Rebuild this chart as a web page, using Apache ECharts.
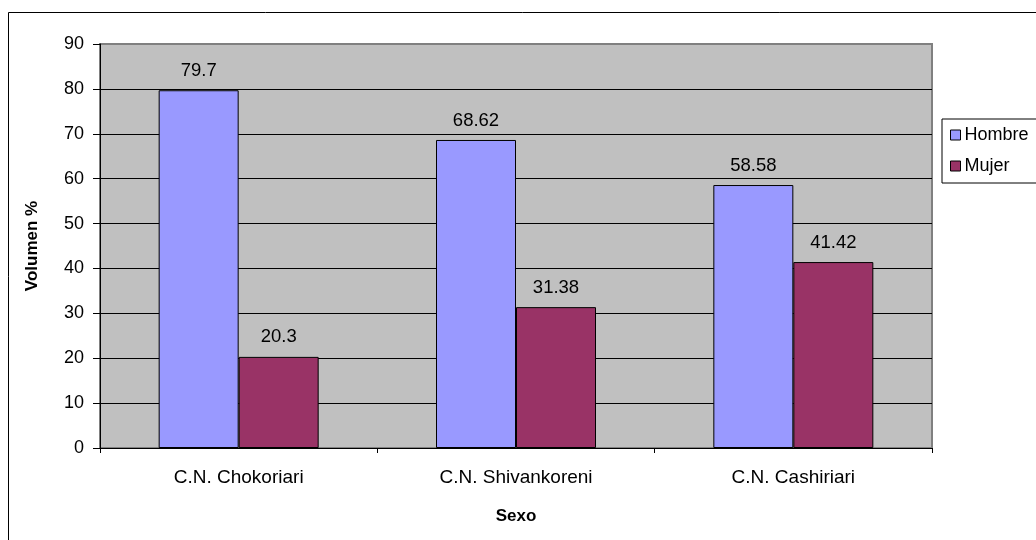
<!DOCTYPE html>
<html>
<head>
<meta charset="utf-8">
<script src="https://cdn.jsdelivr.net/npm/echarts@6/dist/echarts.min.js"></script>
<style>
  html, body { margin: 0; padding: 0; background: #fff; }
  #chart { width: 1036px; height: 540px; }
</style>
</head>
<body>
<div id="chart"></div>
<script>
// Community names on the category axis
const categories = ['C.N. Chokoriari', 'C.N. Shivankoreni', 'C.N. Cashiriari'];
// Share of population by sex, in percent
const hombre = [79.7, 68.62, 58.58];
const mujer = [20.3, 31.38, 41.42];
// Value axis range
const yMin = 0;
const yMax = 90;
const yStep = 10;

const FONT = '"Liberation Sans", Arial, sans-serif';
const chart = echarts.init(document.getElementById('chart'), null, { renderer: 'canvas' });

// Horizontal gridlines: black inside, gray at the top edge
const lineCount = (yMax - yMin) / yStep + 1;
const splitColors = [];
for (let i = 0; i < lineCount; i++) splitColors.push(i === lineCount - 1 ? '#808080' : '#000000');

const labelStyle = {
  show: true,
  position: 'top',
  distance: 10,
  color: '#000',
  fontFamily: FONT,
  fontSize: 18.5
};

chart.setOption({
  animation: false,
  backgroundColor: '#ffffff',
  textStyle: { fontFamily: FONT, color: '#000' },
  graphic: [{
    type: 'rect',
    shape: { x: 8.5, y: 12.5, width: 1200, height: 700 },
    style: { fill: 'none', stroke: '#000', lineWidth: 1 },
    silent: true,
    z: -10
  }],
  grid: {
    left: 100,
    top: 44,
    width: 832,
    height: 404,
    show: true,
    backgroundColor: '#C0C0C0',
    borderColor: '#808080',
    borderWidth: 2
  },
  legend: {
    orient: 'vertical',
    left: 942,
    top: 119,
    padding: [6, 80, 7, 8],
    borderColor: '#000',
    borderWidth: 1,
    backgroundColor: '#fff',
    itemWidth: 10,
    itemHeight: 10,
    itemGap: 11,
    icon: 'rect',
    textStyle: { fontFamily: FONT, fontSize: 18, color: '#000', lineHeight: 20, padding: [0, 0, 0, -1] },
    itemStyle: { borderColor: '#000', borderWidth: 1 },
    data: ['Hombre', 'Mujer']
  },
  xAxis: {
    type: 'category',
    data: categories,
    name: 'Sexo',
    nameLocation: 'middle',
    nameGap: 60,
    nameTextStyle: { fontFamily: FONT, fontSize: 17, fontWeight: 'bold', color: '#000' },
    axisLine: { lineStyle: { color: '#000', width: 1 } },
    axisTick: { show: true, length: 5, lineStyle: { color: '#000' } },
    axisLabel: { fontFamily: FONT, fontSize: 19, color: '#000', margin: 20 }
  },
  yAxis: {
    type: 'value',
    min: yMin,
    max: yMax,
    interval: yStep,
    name: 'Volumen %',
    nameLocation: 'middle',
    nameGap: 59,
    nameRotate: 90,
    nameTextStyle: { fontFamily: FONT, fontSize: 17, fontWeight: 'bold', color: '#000' },
    axisLine: { show: true, lineStyle: { color: '#000', width: 1 } },
    axisTick: { show: true, length: 7, lineStyle: { color: '#000' } },
    axisLabel: { fontFamily: FONT, fontSize: 18, color: '#000', margin: 16 },
    splitLine: { show: true, lineStyle: { color: splitColors, width: 1 } }
  },
  series: [
    {
      name: 'Hombre',
      type: 'bar',
      data: hombre,
      barWidth: 80,
      barGap: '0%',
      itemStyle: { color: '#9999FF', borderColor: '#000', borderWidth: 1 },
      label: labelStyle
    },
    {
      name: 'Mujer',
      type: 'bar',
      data: mujer,
      barWidth: 80,
      itemStyle: { color: '#993366', borderColor: '#000', borderWidth: 1 },
      label: labelStyle
    }
  ]
});
</script>
</body>
</html>
